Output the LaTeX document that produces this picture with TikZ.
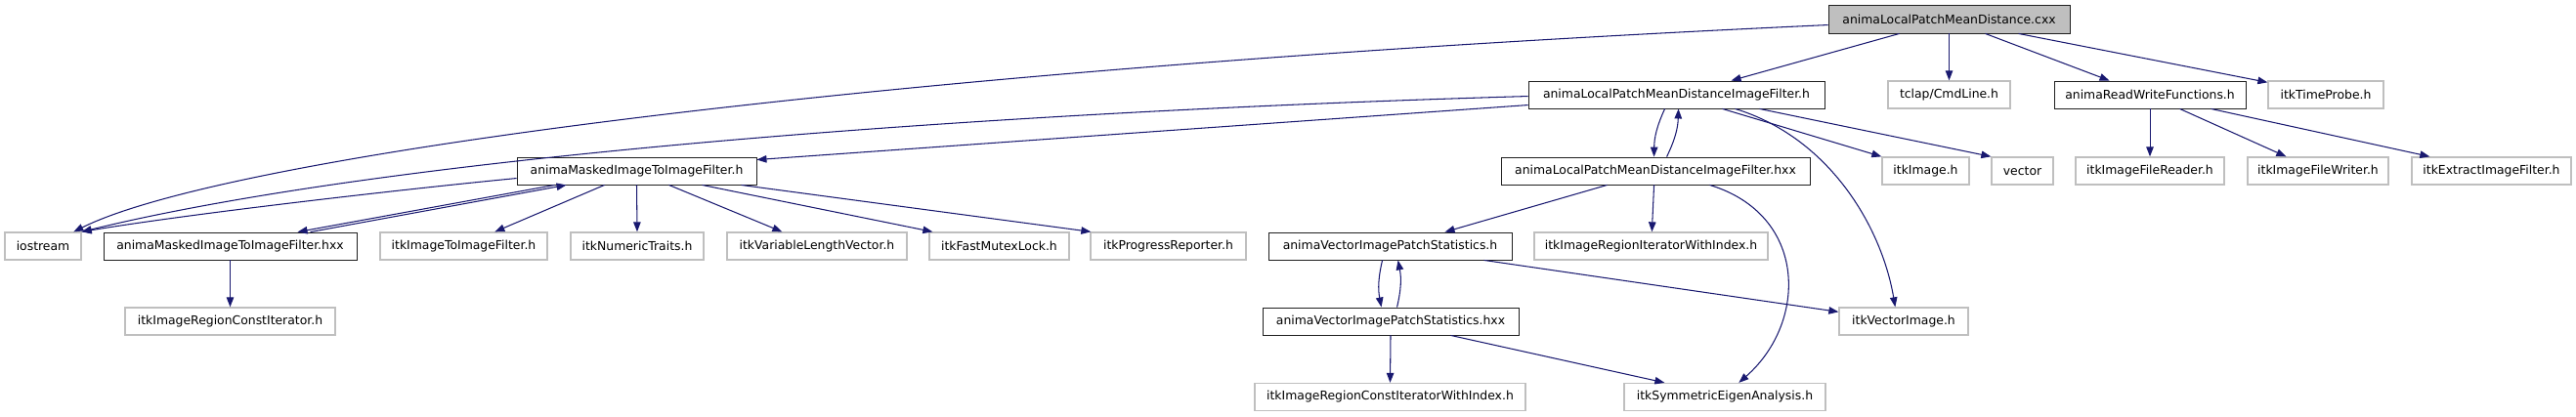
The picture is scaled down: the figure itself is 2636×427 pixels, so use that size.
\documentclass[tikz,border=0pt]{standalone}
\usepackage{fontspec}
\setmainfont{DejaVu Sans}
\usetikzlibrary{arrows.meta,calc}
\definecolor{edgec}{HTML}{191970}
\definecolor{greyb}{HTML}{BFBFBF}
\definecolor{darkb}{HTML}{202020}
\begin{document}
\begin{tikzpicture}[x=1pt,y=-1pt,
  box/.style={draw, inner sep=0pt, minimum height=28pt, font=\fontsize{12.4}{14}\selectfont, line width=1.3pt},
  bbox/.style={box, draw=darkb, line width=0.9pt},
  gbox/.style={box, draw=greyb},
  rootbox/.style={box, draw=darkb, line width=0.9pt, fill=greyb, minimum height=29pt},
  edge/.style={draw=edgec, line width=1.05pt, -{Triangle[length=10pt,width=7.5pt]}}
]
\useasboundingbox[fill=white] (0,0) rectangle (2636,427);
% row 1
\node[rootbox, minimum width=247pt] (root) at (1994.5,19.5) {animaLocalPatchMeanDistance.cxx};
% row 2
\node[bbox, minimum width=303pt] (fh) at (1715.5,97) {animaLocalPatchMeanDistanceImageFilter.h};
\node[gbox, minimum width=125pt] (tclap) at (1994.5,97) {tclap/CmdLine.h};
\node[bbox, minimum width=196pt] (rw) at (2200,97) {animaReadWriteFunctions.h};
\node[gbox, minimum width=118pt] (time) at (2380,97) {itkTimeProbe.h};
% row 3
\node[bbox, minimum width=245pt] (mh) at (651.5,175) {animaMaskedImageToImageFilter.h};
\node[bbox, minimum width=316pt] (fhxx) at (1694,175) {animaLocalPatchMeanDistanceImageFilter.hxx};
\node[gbox, minimum width=89pt] (img) at (1970.5,175) {itkImage.h};
\node[gbox, minimum width=63pt] (vec) at (2069.5,175) {vector};
\node[gbox, minimum width=152pt] (frd) at (2200,175) {itkImageFileReader.h};
\node[gbox, minimum width=144pt] (fwr) at (2372,175) {itkImageFileWriter.h};
\node[gbox, minimum width=163pt] (ext) at (2549.5,175) {itkExtractImageFilter.h};
% row 4
\node[gbox, minimum width=78pt] (ios) at (44,252) {iostream};
\node[bbox, minimum width=259pt] (mhxx) at (235.5,252) {animaMaskedImageToImageFilter.hxx};
\node[gbox, minimum width=171pt] (i2i) at (474.5,252) {itkImageToImageFilter.h};
\node[gbox, minimum width=136pt] (num) at (652,252) {itkNumericTraits.h};
\node[gbox, minimum width=184pt] (vlv) at (836,252) {itkVariableLengthVector.h};
\node[gbox, minimum width=143pt] (mutex) at (1022.5,252) {itkFastMutexLock.h};
\node[gbox, minimum width=159pt] (prog) at (1195.5,252) {itkProgressReporter.h};
\node[bbox, minimum width=249pt] (vps) at (1422.5,252) {animaVectorImagePatchStatistics.h};
\node[gbox, minimum width=239pt] (iriwi) at (1689.5,252) {itkImageRegionIteratorWithIndex.h};
% row 5
\node[gbox, minimum width=215pt] (ircit) at (235.5,329) {itkImageRegionConstIterator.h};
\node[bbox, minimum width=262pt] (vpsxx) at (1423,329) {animaVectorImagePatchStatistics.hxx};
\node[gbox, minimum width=132pt] (vimg) at (1948,329) {itkVectorImage.h};
% row 6
\node[gbox, minimum width=277pt] (irciwi) at (1422.5,406.5) {itkImageRegionConstIteratorWithIndex.h};
\node[gbox, minimum width=206pt] (symeig) at (1765,406.5) {itkSymmetricEigenAnalysis.h};

% edges from root
\draw[edge] ($(root.north west)+(0,21)$) .. controls (900,70) and (230,160) .. ($(ios.north west)+(71,0)$);
\draw[edge] ($(root.south west)+(73,0)$) -- ($(fh.north west)+(208,0)$);
\draw[edge] (root.south) -- (tclap.north);
\draw[edge] ($(root.south west)+(161,0)$) -- ($(rw.north west)+(57,0)$);
\draw[edge] ($(root.south west)+(195,0)$) -- ($(time.north west)+(0,2)$);
% filter.h
\draw[edge] ($(fh.north west)+(0,16)$) .. controls (1000,115) and (400,160) .. (ios.north east);
\draw[edge] ($(fh.north west)+(0,25)$) -- ($(mh.north east)+(0,3)$);
\draw[edge] ($(fh.south west)+(140,0)$) to[bend right=12] ($(fhxx.north west)+(157,0)$);
\draw[edge] ($(fh.south west)+(199,0)$) -- (img.north west);
\draw[edge] ($(fh.south west)+(237,0)$) -- (vec.north west);
\draw[edge] ($(fh.south west)+(212,0)$) .. controls (1870,140) and (1925,230) .. ($(vimg.north west)+(58,0)$);
% filter.hxx
\draw[edge] ($(fhxx.north west)+(170,0)$) to[bend right=12] ($(fh.south west)+(154,0)$);
\draw[edge] ($(fhxx.south west)+(109,0)$) -- ($(vps.north west)+(181,0)$);
\draw[edge] ($(fhxx.south west)+(157,0)$) -- ($(iriwi.north west)+(121,0)$);
\draw[edge] ($(fhxx.south west)+(214,0)$) .. controls (1850,220) and (1850,330) .. ($(symeig.north west)+(118,0)$);
% masked.h
\draw[edge] ($(mh.north west)+(0,22)$) .. controls (420,193) and (200,218) .. (ios.north east);
\draw[edge] ($(mh.south west)+(39,0)$) -- ($(mhxx.north west)+(199,0)$);
\draw[edge] ($(mh.south west)+(90,0)$) -- ($(i2i.north west)+(118,0)$);
\draw[edge] (mh.south) -- (num.north);
\draw[edge] ($(mh.south west)+(156,0)$) -- ($(vlv.north west)+(57,0)$);
\draw[edge] ($(mh.south west)+(190,0)$) -- ($(mutex.north west)+(4,0)$);
\draw[edge] ($(mh.south west)+(230,0)$) -- ($(prog.north west)+(1,0)$);
% masked.hxx
\draw[edge] ($(mhxx.north west)+(212,0)$) -- ($(mh.south west)+(51,0)$);
\draw[edge] (mhxx.south) -- (ircit.north);
% readwrite
\draw[edge] (rw.south) -- (frd.north);
\draw[edge] ($(rw.south west)+(129,0)$) -- ($(fwr.north west)+(40,0)$);
\draw[edge] ($(rw.south west)+(161,0)$) -- ($(ext.north west)+(19,0)$);
% vector patch statistics
\draw[edge] ($(vps.south west)+(117,0)$) to[bend right=12] ($(vpsxx.north west)+(122,0)$);
\draw[edge] ($(vpsxx.north west)+(138,0)$) to[bend right=12] ($(vps.south west)+(133,0)$);
\draw[edge] ($(vps.south west)+(221,0)$) -- ($(vimg.north west)+(0,5)$);
\draw[edge] (vpsxx.south) -- (irciwi.north);
\draw[edge] ($(vpsxx.south west)+(193,0)$) -- ($(symeig.north west)+(42,0)$);
\end{tikzpicture}
\end{document}
